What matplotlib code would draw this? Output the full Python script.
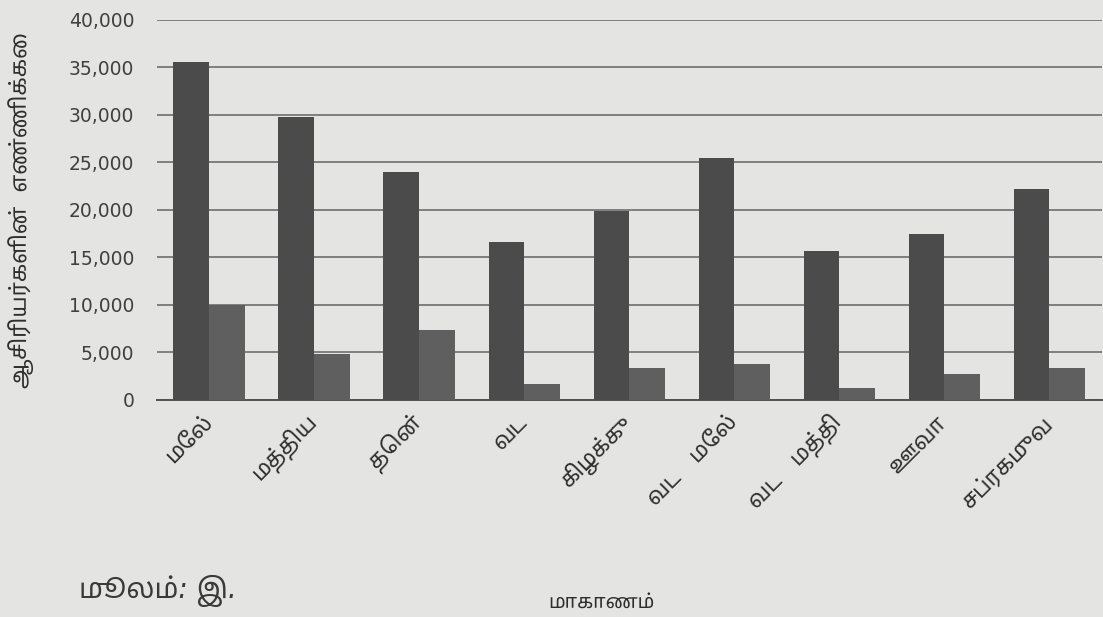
import numpy as np
import matplotlib
matplotlib.use("Agg")
from matplotlib import pyplot as plt
from matplotlib import font_manager as fm
from matplotlib.ft2font import FT2Font
from matplotlib.ticker import FuncFormatter

# ------ data ------
provinces = ["மேல்", "மத்திய", "தென்", "வட", "கிழக்கு",
             "வட   மேல்", "வட   மத்தி", "ஊவா", "சப்ரகமுவ"]
series_a = [35600, 29800, 24000, 16600, 19900, 25500, 15700, 17500, 22200]
series_b = [10000, 4800, 7300, 1700, 3300, 3800, 1200, 2700, 3400]
y_ticks = [0, 5000, 10000, 15000, 20000, 25000, 30000, 35000, 40000]
x_title = "மாகாணம்"
y_title = "ஆசிரியர்களின்  எண்ணிக்கை"
note = "மூலம்: இ."


# find installed fonts that carry Tamil glyphs, prefer proportional ones
def tamil_family():
    found = []
    for f in fm.fontManager.ttflist:
        try:
            cmap = FT2Font(f.fname).get_charmap()
        except Exception:
            continue
        if 0x0BAE in cmap and 0x0B95 in cmap:
            found.append(f.name)
    if not found:
        return None
    found.sort(key=lambda n: ("Tamil" not in n, "Mono" in n, "Sans" not in n, n))
    return found[0]


fam = tamil_family()
families = ["DejaVu Sans", fam] if fam else ["DejaVu Sans"]
plt.rcParams['font.family'] = families

bg = "#e4e4e2"
fig = plt.figure(figsize=(11.03, 6.17), dpi=100, facecolor=bg)
ax = fig.add_axes([0.142, 0.352, 0.857, 0.616], facecolor=bg)

x = np.arange(len(provinces))
w = 0.34
ax.bar(x - w / 2, series_a, w, color="#4b4b4b", zorder=3)
ax.bar(x + w / 2, series_b, w, color="#5f5f5f", zorder=3)

ax.set_xlim(-0.5, len(provinces) - 0.5)
ax.set_ylim(0, 40000)
ax.set_yticks(y_ticks)
ax.yaxis.set_major_formatter(FuncFormatter(lambda v, p: f"{int(v):,}"))
ax.grid(axis="y", color="#6e6e6e", linewidth=1.2, zorder=0)
ax.tick_params(axis="y", length=0, labelsize=13.5, labelcolor="#404040", pad=16)
ax.tick_params(axis="x", length=0, pad=14)

for s in ["top", "right", "left"]:
    ax.spines[s].set_visible(False)
ax.spines["bottom"].set_color("#505050")
ax.spines["bottom"].set_linewidth(1.4)

ax.set_xticks(x)
ax.set_xticklabels(provinces, rotation=45, ha="right", va="center",
                   rotation_mode="anchor", fontsize=16, color="#2e2e2e")

ax.set_ylabel(y_title, fontsize=16, color="#2e2e2e")
ax.yaxis.set_label_coords(-0.13, 0.5)
fig.text(0.545, 0.015, x_title, fontsize=14, color="#2e2e2e", ha="center")
fig.text(0.072, 0.03, note, fontsize=20, color="#3a3a3a", ha="left", style="italic")

fig.savefig("out.png", dpi=100, facecolor=bg)
